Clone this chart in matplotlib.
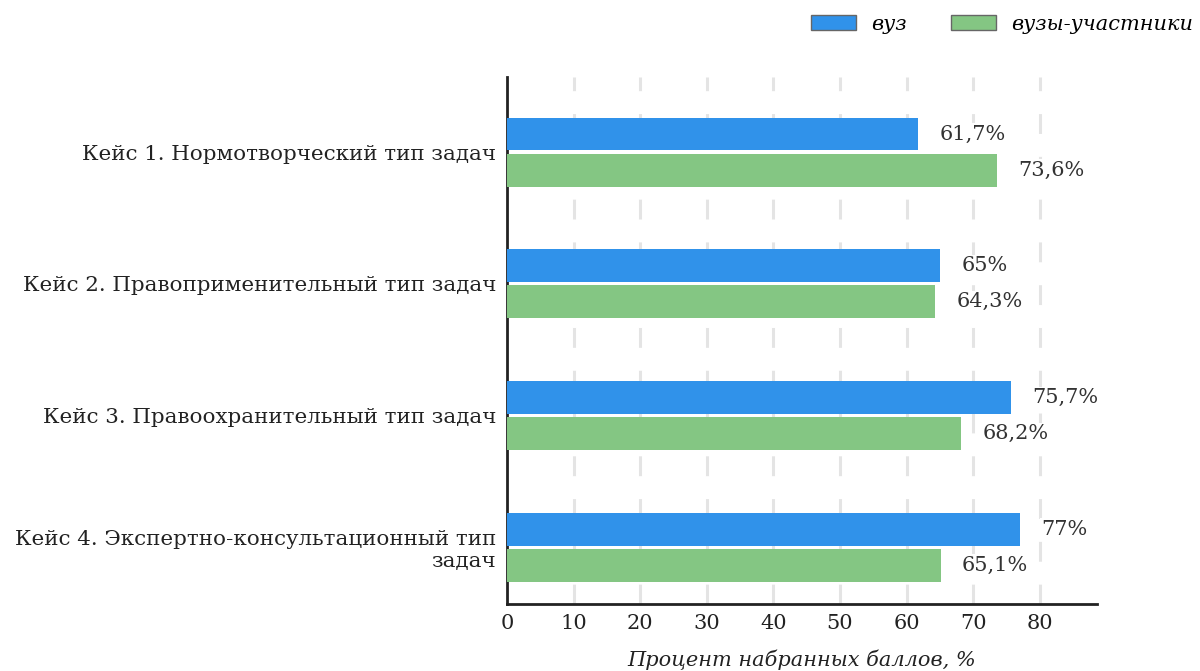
import numpy as np
import matplotlib
matplotlib.use("Agg")
import matplotlib.pyplot as plt
from matplotlib.patches import Patch

categories = [
    "Кейс 1. Нормотворческий тип задач",
    "Кейс 2. Правоприменительный тип задач",
    "Кейс 3. Правоохранительный тип задач",
    "Кейс 4. Экспертно-консультационный тип\nзадач",
]
vuz = [61.7, 65, 75.7, 77]
participants = [73.6, 64.3, 68.2, 65.1]
vuz_labels = ["61,7%", "65%", "75,7%", "77%"]
part_labels = ["73,6%", "64,3%", "68,2%", "65,1%"]
series_names = ["вуз", "вузы-участники"]

blue = "#3092ea"
green = "#84c683"
fs = 15

plt.rcParams["font.family"] = ["DejaVu Serif"]

fig = plt.figure(figsize=(12, 6.71), dpi=100)
ax = fig.add_axes([0.4225, 0.0998, 0.4917, 0.7855])

y = np.arange(len(categories))
h = 0.25
gap = 0.012
ax.barh(y - h / 2 - gap, vuz, height=h, color=blue, zorder=3)
ax.barh(y + h / 2 + gap, participants, height=h, color=green, zorder=3)

box = dict(facecolor="white", edgecolor="none", pad=1)
for i in range(len(categories)):
    ax.text(vuz[i] + 3.2, y[i] - h / 2 - gap, vuz_labels[i], va="center", ha="left",
            fontsize=fs, color="#333333", bbox=box, zorder=4)
    ax.text(participants[i] + 3.2, y[i] + h / 2 + gap, part_labels[i], va="center", ha="left",
            fontsize=fs, color="#333333", bbox=box, zorder=4)

ax.set_xlim(0, 88.6)
ax.set_ylim(3.43, -0.57)
ax.set_yticks(y)
ax.set_yticklabels(categories, fontsize=15.4, color="#222222")
ax.set_xticks(range(0, 90, 10))
ax.tick_params(axis="x", labelsize=fs, length=0, pad=7, colors="#222222")
ax.tick_params(axis="y", length=0, pad=8)

for xv in range(10, 90, 10):
    ax.axvline(xv, color="#e4e4e4", lw=2.2, ls=(0, (6.5, 7.5)), zorder=1)

ax.spines["right"].set_visible(False)
ax.spines["top"].set_visible(False)
ax.spines["left"].set_linewidth(2)
ax.spines["bottom"].set_linewidth(2)
ax.spines["left"].set_color("#222222")
ax.spines["bottom"].set_color("#222222")

ax.set_xlabel("Процент набранных баллов, %", fontsize=fs, style="italic", labelpad=12,
              color="#222222")

handles = [Patch(facecolor=blue, edgecolor="#666666"), Patch(facecolor=green, edgecolor="#666666")]
fig.legend(handles, series_names, loc="upper right", bbox_to_anchor=(1.01, 1.006), ncol=2,
           frameon=False, prop={"style": "italic", "size": fs}, handlelength=2.15,
           handleheight=0.75, columnspacing=2.1, handletextpad=0.75)

fig.savefig("out.png", dpi=100)
